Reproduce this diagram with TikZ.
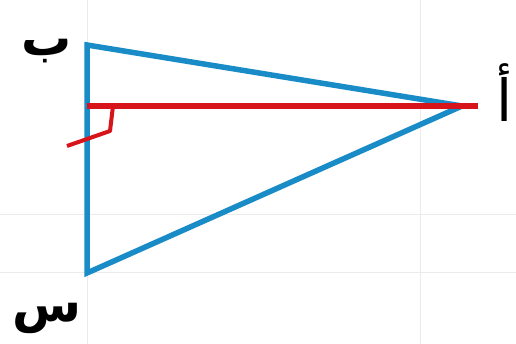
\documentclass[tikz,border=0pt]{standalone}
\usepackage{fontspec}
\TeXXeTstate=1
\newfontfamily\arabicfont[Script=Arabic]{DejaVu Sans}
\definecolor{triblue}{RGB}{25,140,200}
\definecolor{trired}{RGB}{215,20,25}
\begin{document}
\begin{tikzpicture}[x=1pt,y=-1pt,
  gridline/.style={draw=black!8,line width=1pt},
  side/.style={draw=triblue,line width=5.5pt,line join=miter},
  alt/.style={draw=trired,line width=6.5pt},
  rightmark/.style={draw=trired,line width=4pt,line join=round},
  lbl/.style={font=\arabicfont\bfseries\fontsize{50}{50}\selectfont,text=black,inner sep=0pt},
  lbla/.style={font=\arabicfont\fontsize{58}{58}\selectfont,text=black,inner sep=0pt}]
\useasboundingbox (0,0) rectangle (516,344);
\fill[white] (0,0) rectangle (516,344);
% faint grid
\draw[gridline] (87,0) -- (87,344);
\draw[gridline] (420,0) -- (420,344);
\draw[gridline] (0,215) -- (516,215);
\draw[gridline] (0,273) -- (516,273);
% vertices
\coordinate (B) at (87,45);
\coordinate (C) at (87,273);
\coordinate (A) at (462,106);
\coordinate (H) at (87,106);
\coordinate (T) at (478,106);
\coordinate (m1) at (113,106);
\coordinate (m2) at (110,131);
\coordinate (m3) at (67,146);
% triangle
\draw[side] (B) -- (A) -- (C) -- cycle;
% altitude
\draw[alt] (H) -- (T);
\draw[rightmark] (m1) -- (m2) -- (m3);
% labels
\node[lbl] (lb) at (47,51) {\beginR ب\endR};
\node[lbl] (lc) at (47,318) {\beginR س\endR};
\node[lbla] (la) at (505,93) {\beginR أ\endR};
\end{tikzpicture}
\end{document}
